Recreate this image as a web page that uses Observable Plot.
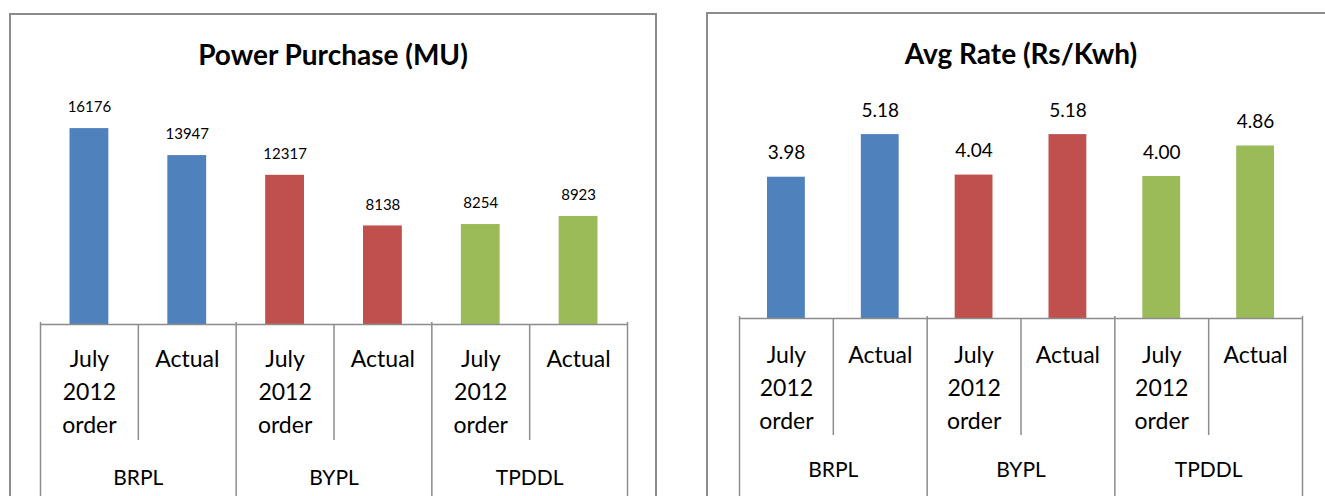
<!DOCTYPE html>
<html>
<head>
<meta charset="utf-8">
<script src="https://cdn.jsdelivr.net/npm/d3@7"></script>
<script src="https://cdn.jsdelivr.net/npm/@observablehq/plot@0.6"></script>
<style>
  html, body { margin: 0; padding: 0; background: #fff; width: 1325px; height: 496px; overflow: hidden; position: relative; font-family: Lato, "Open Sans", sans-serif; }
  .frame { position: absolute; border: 2px solid #8c8c8c; box-sizing: border-box; }
  .title { position: absolute; font-weight: bold; font-size: 28px; line-height: 34px; color: #000; text-align: center; white-space: nowrap; }
  .chart { position: absolute; top: 0; }
</style>
</head>
<body>
<div class="frame" style="left:9px;top:13px;width:648px;height:520px;"></div>
<div class="frame" style="left:706px;top:12px;width:700px;height:520px;"></div>
<div class="title" style="left:9px;width:648px;top:37px;">Power Purchase (MU)</div>
<div class="title" style="left:706px;width:630px;top:36px;">Avg Rate (Rs/Kwh)</div>
<div id="left" class="chart" style="left:0px;"></div>
<div id="right" class="chart" style="left:690px;"></div>
<script>
const groups = ["BRPL", "BRPL", "BYPL", "BYPL", "TPDDL", "TPDDL"];
const categories = ["July\n2012\norder", "Actual", "July\n2012\norder", "Actual", "July\n2012\norder", "Actual"];
const purchaseMU = [16176, 13947, 12317, 8138, 8254, 8923];
const avgRate = [3.98, 5.18, 4.04, 5.18, 4.00, 4.86];
const groupNames = ["BRPL", "BYPL", "TPDDL"];
const groupColors = ["#4F81BD", "#C0504D", "#9BBB59"];

function makeChart({values, format, width, marginLeft, marginRight, marginTop, marginBottom, yMax, barInset, valueFont, valueDy, catDy, groupDy, shortLen, longLen}) {
  const rows = values.map((v, i) => ({i, group: groups[i], category: categories[i], value: v, label: format(v)}));
  const boundariesLong = [];
  const boundariesShort = [];
  rows.forEach((d, i) => {
    if (i === 0 || rows[i - 1].group !== d.group) boundariesLong.push(i - 0.5);
    if (i > 0 && rows[i - 1].group === d.group) boundariesShort.push(i - 0.5);
  });
  boundariesLong.push(rows.length - 0.5);
  const groupRows = groupNames.map(g => {
    const idx = rows.filter(d => d.group === g).map(d => d.i);
    return {group: g, center: d3.mean(idx)};
  });
  return Plot.plot({
    width, height: 496, marginLeft, marginRight, marginTop, marginBottom,
    style: {fontFamily: "Lato, 'Open Sans', sans-serif", background: "transparent", overflow: "visible"},
    x: {domain: [-0.5, rows.length - 0.5], axis: null},
    y: {domain: [0, yMax], axis: null},
    color: {domain: groupNames, range: groupColors},
    marks: [
      Plot.rectY(rows, {x1: d => d.i - 0.5, x2: d => d.i + 0.5, y: "value", fill: "group", insetLeft: barInset, insetRight: barInset}),
      Plot.text(rows, {x: "i", y: "value", text: "label", dy: -valueDy, fontSize: valueFont, fill: "#000"}),
      Plot.ruleY([0], {stroke: "#8c8c8c", strokeWidth: 1.5}),
      Plot.ruleX(boundariesShort, {x: d => d, y1: () => 0, y2: () => 0, insetBottom: -shortLen, stroke: "#8c8c8c", strokeWidth: 1.5}),
      Plot.ruleX(boundariesLong, {x: d => d, y1: () => 0, y2: () => 0, insetTop: -2, insetBottom: -longLen, stroke: "#8c8c8c", strokeWidth: 1.5}),
      Plot.text(rows, {x: "i", y: () => 0, text: "category", dy: catDy, lineAnchor: "top", lineHeight: 1.43, fontSize: 23, fill: "#000"}),
      Plot.text(groupRows, {x: "center", y: () => 0, text: "group", dy: groupDy, fontSize: 21, fill: "#000"})
    ]
  });
}

document.getElementById("left").append(makeChart({
  values: purchaseMU, format: d3.format("d"),
  width: 660, marginLeft: 40, marginRight: 33, marginTop: 106, marginBottom: 172, yMax: 18000,
  barInset: 29.5, valueFont: 15, valueDy: 21, catDy: 19, groupDy: 154, shortLen: 116, longLen: 200
}));

document.getElementById("right").append(makeChart({
  values: avgRate, format: d3.format(".2f"),
  width: 635, marginLeft: 49, marginRight: 23, marginTop: 105, marginBottom: 178, yMax: 6,
  barInset: 28, valueFont: 19, valueDy: 24, catDy: 21, groupDy: 152, shortLen: 117, longLen: 200
}));
</script>
</body>
</html>
